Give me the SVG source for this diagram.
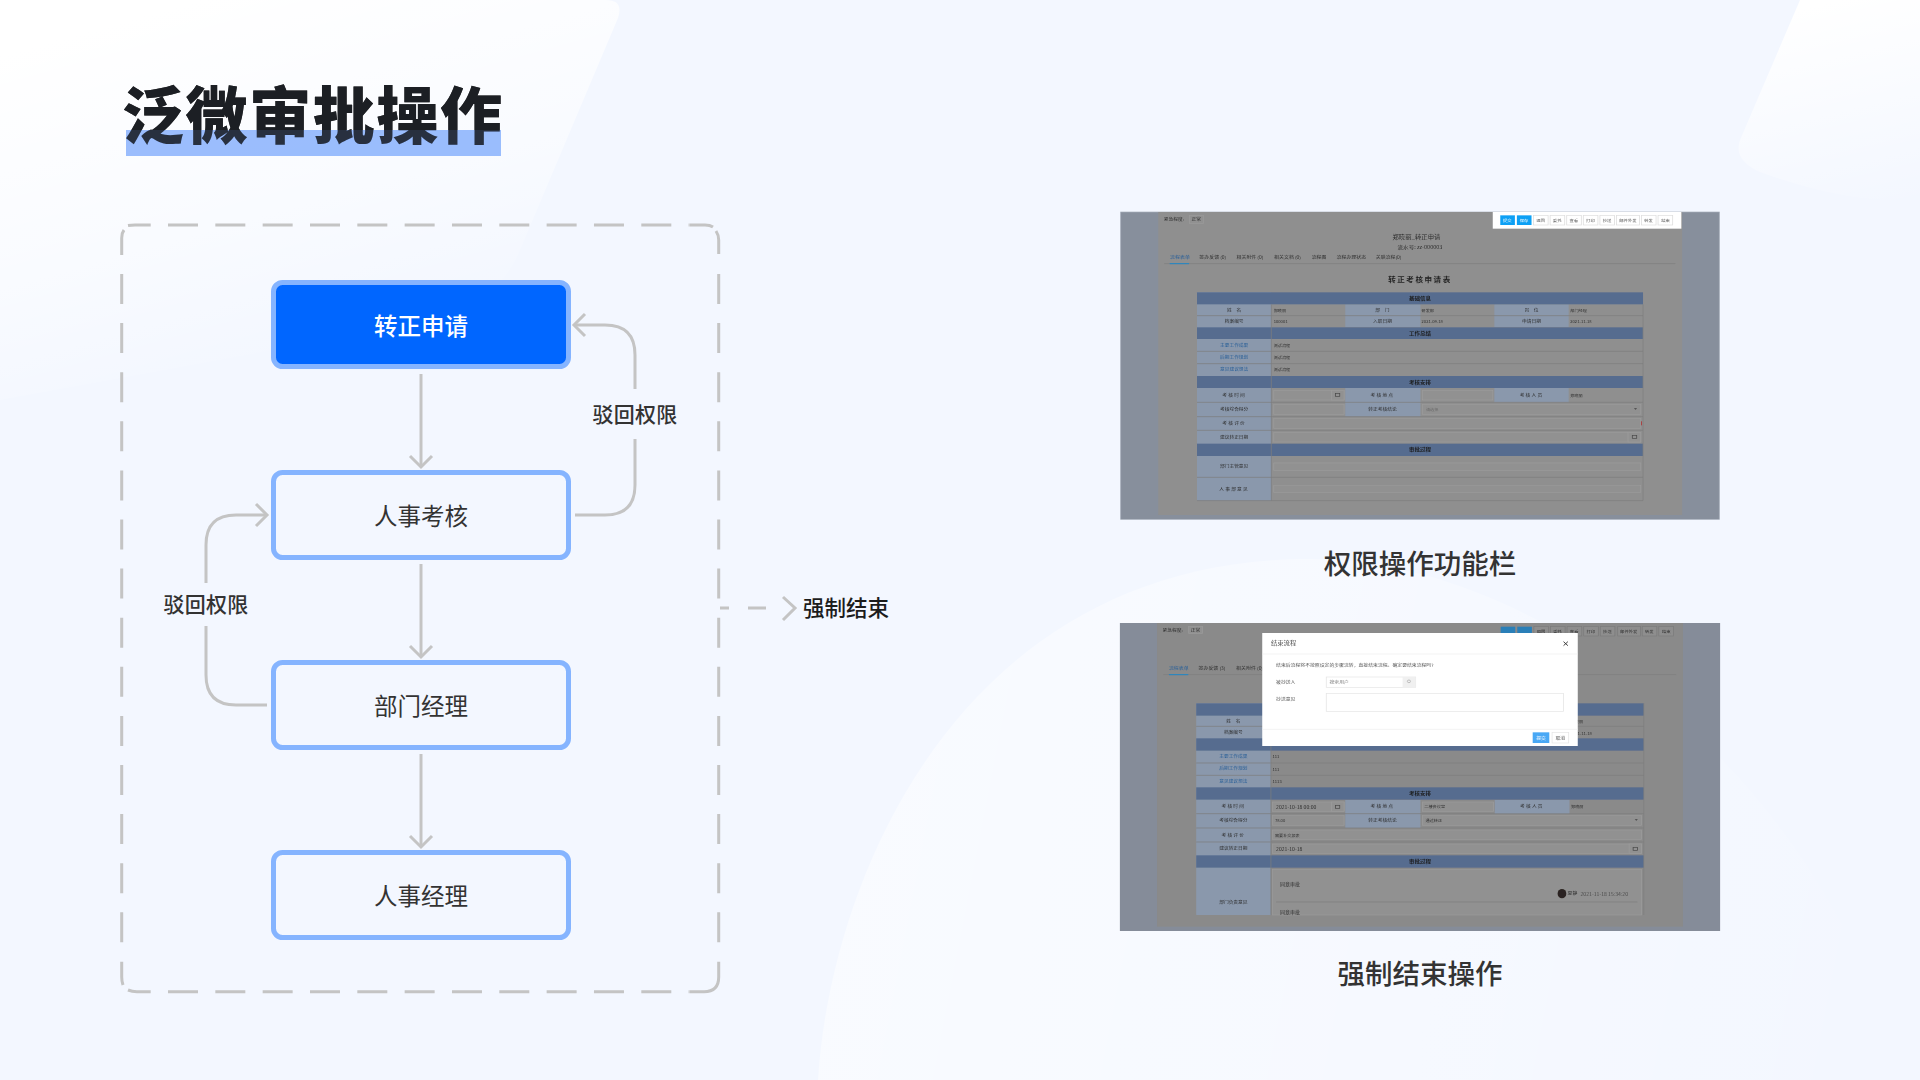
<svg xmlns="http://www.w3.org/2000/svg" width="1920" height="1080" viewBox="0 0 1920 1080">
<style>
text{font-family:"Noto Sans CJK SC","Noto Sans",sans-serif}
.node{fill:none;stroke:#85b4ff;stroke-width:5}
.nt{font-size:23.5px;fill:#333;text-anchor:middle}
.lb{font-size:21px;fill:#333;text-anchor:middle;letter-spacing:.2px;font-weight:500}
.cn{fill:none;stroke:#c4c4c4;stroke-width:3}
.cap{font-size:27.5px;fill:#333;font-weight:500;text-anchor:middle}
.s{font-size:12px;fill:#2e2e2e}
.v{font-size:10.5px;fill:#2e2e2e}
.t{font-size:12.5px;fill:#2e2e2e}
.h{font-size:14px;font-weight:700;fill:#1c1c1c;text-anchor:middle}
.bt{font-size:11px;fill:#555;text-anchor:middle}
.d{font-size:12.3px;fill:#555}
.m{text-anchor:middle}
.sp{letter-spacing:3px}
.lk{fill:#2b6098}
.lab{fill:#8a98ac}
.band{fill:#566c8f}
.inp{fill:#919191;stroke:#9b9b9b;stroke-width:2}
.ln{stroke:#7e7e7e;stroke-width:2;fill:none}
.ic{fill:none;stroke:#4a4a4a;stroke-width:2}
.tb{fill:#fff;stroke:#ddd;stroke-width:2}
.tbd{fill:#8e8e8e;stroke:#7c7c7c;stroke-width:2}
.fr{fill:none;stroke:#c4c4c4;stroke-width:3}
</style>
<defs>
<linearGradient id="tl" gradientUnits="userSpaceOnUse" x1="200" y1="0" x2="300" y2="360"><stop offset="0" stop-color="#fff"/><stop offset=".6" stop-color="#fff" stop-opacity=".5"/><stop offset="1" stop-color="#fff" stop-opacity="0"/></linearGradient>
<linearGradient id="tr" gradientUnits="userSpaceOnUse" x1="1840" y1="0" x2="1890" y2="210"><stop offset="0" stop-color="#fff"/><stop offset=".6" stop-color="#fff" stop-opacity=".4"/><stop offset="1" stop-color="#fff" stop-opacity="0"/></linearGradient>
<linearGradient id="br" gradientUnits="userSpaceOnUse" x1="820" y1="800" x2="1850" y2="1000"><stop offset="0" stop-color="#fff" stop-opacity=".5"/><stop offset=".55" stop-color="#fff" stop-opacity=".28"/><stop offset="1" stop-color="#fff" stop-opacity=".03"/></linearGradient>
<marker id="ch" markerUnits="userSpaceOnUse" markerWidth="30" markerHeight="30" viewBox="-15 -15 30 30" refX="0" refY="0" orient="auto"><path d="M-11,-11L0,0L-11,11" fill="none" stroke="#c4c4c4" stroke-width="3"/></marker>
<filter id="bl" x="-2%" y="-2%" width="104%" height="104%"><feGaussianBlur stdDeviation="2 1.6"/></filter>
</defs>
<rect id="background" width="1920" height="1080" fill="#f3f7ff"/>
<path d="M0,0H606Q624,0 618,18L520,250Q500,300 440,320L0,400Z" fill="url(#tl)"/>
<path d="M1800,0L1740,140Q1733,160 1760,172Q1850,205 1920,200V0Z" fill="url(#tr)"/>
<path d="M818,1080C830,880 960,559 1310,559C1500,559 1700,700 1810,870C1860,950 1900,1030 1920,1080Z" fill="url(#br)"/>

<g id="title">
<text x="122" y="139" font-size="62" font-weight="900" fill="#222" textLength="380" lengthAdjust="spacing">泛微审批操作</text>
<rect x="126" y="130" width="375" height="26" fill="#85aefc" opacity=".82"/>
<text x="122" y="139" font-size="62" font-weight="900" fill="#1b1f24" fill-opacity=".85" textLength="380" lengthAdjust="spacing">泛微审批操作</text>
</g>

<g id="frame">
<path class="fr" d="M168,225H689" stroke-dasharray="30 17.33"/>
<path class="fr" d="M168,991.700H689" stroke-dasharray="30 17.33"/>
<path class="fr" d="M121.700,274V961" stroke-dasharray="30 19.1"/>
<path class="fr" d="M718.700,274V961" stroke-dasharray="30 19.1"/>
<path class="fr" d="M121.700,255V238Q121.700,233 124,230M128,225.500Q131,225 135,225H150.700"/>
<path class="fr" d="M689.300,225H705Q710,225 713,227M716,231Q718.700,235 718.700,240V254"/>
<path class="fr" d="M718.700,961.700V977Q718.700,991.700 704,991.700H689.300"/>
<path class="fr" d="M121.700,961.700V977Q121.700,981 123,985M128,990Q132,991.700 137,991.700H150.700"/>
</g>

<g id="connectors">
<path class="cn" marker-end="url(#ch)" d="M421,374V467"/>
<path class="cn" marker-end="url(#ch)" d="M421,564V657"/>
<path class="cn" marker-end="url(#ch)" d="M421,754V847"/>
<path class="cn" d="M575,515H605Q635,515 635,485V439"/>
<path class="cn" marker-end="url(#ch)" d="M635,389V355Q635,325 605,325H574"/>
<path class="cn" d="M267,705H236Q206,705 206,675V626"/>
<path class="cn" marker-end="url(#ch)" d="M206,583V545Q206,515 236,515H267"/>
<path class="cn" d="M720,608H729M748,608H766"/>
<path class="cn" d="M783,597L795,608L783,620"/>
</g>

<g id="n1"><rect x="273.500" y="282.500" width="295" height="84" rx="9" fill="#06f" stroke="#85b4ff" stroke-width="5"/><text class="nt" x="421" y="335" style="fill:#fff;font-weight:500">转正申请</text></g>
<g id="n2"><rect class="node" x="273.500" y="472.500" width="295" height="85" rx="9"/><text class="nt" x="421" y="525">人事考核</text></g>
<g id="n3"><rect class="node" x="273.500" y="662.500" width="295" height="85" rx="9"/><text class="nt" x="421" y="715">部门经理</text></g>
<g id="n4"><rect class="node" x="273.500" y="852.500" width="295" height="85" rx="9"/><text class="nt" x="421" y="905">人事经理</text></g>

<text id="l1" class="lb" x="635" y="422">驳回权限</text>
<text id="l2" class="lb" x="206" y="612">驳回权限</text>
<text id="l3" x="803" y="616" font-size="21.5" font-weight="500" fill="#1c1c1c">强制结束</text>

<g id="shot1" transform="translate(1110,200) scale(.39541,.33333)">
<rect x="27" y="36" width="1514" height="922" fill="#878f9c" stroke="#a5adb9" stroke-width="2"/>
<rect x="122" y="36" width="1325" height="909" fill="#8f8f8f"/>
<g filter="url(#bl)">
<text class="s" x="136" y="63">紧急程度:</text><rect x="201" y="47" width="35" height="23" class="inp"/><text class="s m" x="218" y="63">正常</text>
<text class="m" x="775" y="116" style="font-size:16px;fill:#2a2a2a">郑晓丽_转正申请</text>
<text class="m" x="784" y="147" style="font-size:14px;fill:#2a2a2a">流水号: zz-000003</text>
<text class="t lk" x="152" y="177">流程表单</text><text class="t" x="226" y="177">签办反馈 (0)</text><text class="t" x="320" y="177">相关附件 (0)</text><text class="t" x="415" y="177">相关文档 (0)</text><text class="t" x="510" y="177">流程图</text><text class="t" x="573" y="177">流程办理状态</text><text class="t" x="672" y="177">关联流程(0)</text>
<path class="ln" d="M137,191H1430"/><path d="M151,191H200" stroke="#1d86c8" stroke-width="3"/>
<text class="m" x="784" y="245" style="font-size:19px;font-weight:700;fill:#222;letter-spacing:4px">转正考核申请表</text>
<rect class="lab" x="220" y="277" width="188" height="625"/>
<rect class="lab" x="595" y="313" width="190" height="68"/><rect class="lab" x="972" y="313" width="188" height="68"/>
<rect class="lab" x="595" y="564" width="190" height="86"/><rect class="lab" x="972" y="564" width="188" height="43"/>
<rect class="band" x="220" y="277" width="1128" height="36"/><rect class="band" x="220" y="382" width="1128" height="35"/><rect class="band" x="220" y="528" width="1128" height="36"/><rect class="band" x="220" y="731" width="1128" height="37"/>
<path class="ln" d="M220,347H1348M220,454H1348M220,491H1348M220,607H1348M220,650H1348M220,691H1348M220,832H1348M220,902H1348M1348,313V902M408,313V902"/>
<text class="h" x="784" y="300">基础信息</text><text class="h" x="784" y="404">工作总结</text><text class="h" x="784" y="551">考核安排</text><text class="h" x="784" y="754">审批过程</text>
<text class="s m" x="314" y="335">姓　名</text><text class="s m" x="689" y="335">部　门</text><text class="s m" x="1066" y="335">岗　位</text>
<text class="s m" x="314" y="369">档案编号</text><text class="s m" x="689" y="369">入职日期</text><text class="s m" x="1066" y="369">申请日期</text>
<text class="s m lk" x="314" y="441">主要工作成果</text><text class="s m lk" x="314" y="478">后期工作规划</text><text class="s m lk" x="314" y="514">意见建议想法</text>
<text class="s m sp" x="314" y="590">考核时间</text><text class="s m sp" x="689" y="590">考核地点</text><text class="s m sp" x="1066" y="590">考核人员</text>
<text class="s m" x="314" y="632">考核综合得分</text><text class="s m" x="689" y="632">转正考核结论</text><text class="s m sp" x="314" y="675">考核评价</text><text class="s m" x="314" y="716">建议转正日期</text>
<text class="s m" x="314" y="805">部门主管意见</text><text class="s m sp" x="314" y="873">人事部意见</text>
<text class="v" x="414" y="335">郑晓丽</text><text class="v" x="788" y="335">研发部</text><text class="v" x="1164" y="335">部门经理</text><text class="v" x="414" y="370">100001</text><text class="v" x="788" y="370">2021-09-18</text><text class="v" x="1164" y="370">2021-11-18</text>
<text class="v" x="414" y="441">测试流程</text><text class="v" x="414" y="478">测试流程</text><text class="v" x="414" y="514">测试流程</text><text class="v" x="1164" y="591">郑晓丽</text>
<rect class="inp" x="414" y="571" width="178" height="29"/><rect class="inp" x="560" y="571" width="32" height="29"/><rect class="inp" x="790" y="571" width="178" height="29"/>
<rect class="inp" x="414" y="614" width="178" height="29"/><rect class="inp" x="790" y="614" width="552" height="29"/><text class="v" x="799" y="632" style="fill:#6a6a6a">请选择</text><path d="M1325,625h8l-4,4z" fill="#444"/>
<rect class="inp" x="414" y="656" width="928" height="29"/><rect class="inp" x="414" y="697" width="928" height="29"/><rect class="inp" x="1310" y="697" width="32" height="29"/>
<rect class="ic" x="570" y="581" width="11" height="9"/><rect class="ic" x="1321" y="707" width="11" height="9"/><rect x="1343" y="664" width="2" height="12" fill="#b03030"/>
<rect class="inp" x="414" y="789" width="928" height="22"/><rect class="inp" x="414" y="856" width="928" height="22"/>
</g>
<rect fill="#fff" x="968" y="36" width="477" height="50"/>
<g filter="url(#bl)">
<rect x="987" y="46" width="37" height="29" fill="#0ba0f5"/><rect x="1029" y="46" width="37" height="29" fill="#0ba0f5"/>
<rect class="tb" x="1071" y="46" width="37" height="29"/><rect class="tb" x="1113" y="46" width="37" height="29"/><rect class="tb" x="1155" y="46" width="37" height="29"/><rect class="tb" x="1197" y="46" width="37" height="29"/><rect class="tb" x="1239" y="46" width="37" height="29"/><rect class="tb" x="1281" y="46" width="58" height="29"/><rect class="tb" x="1344" y="46" width="37" height="29"/><rect class="tb" x="1386" y="46" width="37" height="29"/>
<text class="bt" x="1005" y="65" style="fill:#fff">提交</text><text class="bt" x="1047" y="65" style="fill:#fff">保存</text><text class="bt" x="1089" y="65">退回</text><text class="bt" x="1131" y="65">委托</text><text class="bt" x="1173" y="65">查看</text><text class="bt" x="1215" y="65">打印</text><text class="bt" x="1257" y="65">抄送</text><text class="bt" x="1310" y="65">邮件外发</text><text class="bt" x="1362" y="65">转发</text><text class="bt" x="1405" y="65">结束</text>
</g>
</g>
<text id="c1" class="cap" x="1420" y="574">权限操作功能栏</text>

<g id="shot2" transform="translate(1110,610) scale(.39541,.33333)">
<rect x="25" y="39" width="1518" height="924" fill="#858c99"/>
<rect x="119" y="39" width="1330" height="911" fill="#8a8a8a"/>
<g filter="url(#bl)">
<text class="s" x="133" y="65">紧急程度:</text><rect x="199" y="50" width="35" height="21" class="inp"/><text class="s m" x="216" y="65">正常</text>
<rect x="988" y="50" width="37" height="28" fill="#2a7fb8"/><rect x="1030" y="50" width="37" height="28" fill="#2a7fb8"/>
<rect class="tbd" x="1072" y="50" width="37" height="28"/><rect class="tbd" x="1114" y="50" width="37" height="28"/><rect class="tbd" x="1156" y="50" width="37" height="28"/><rect class="tbd" x="1198" y="50" width="37" height="28"/><rect class="tbd" x="1240" y="50" width="37" height="28"/><rect class="tbd" x="1284" y="50" width="58" height="28"/><rect class="tbd" x="1346" y="50" width="37" height="28"/><rect class="tbd" x="1388" y="50" width="37" height="28"/>
<text class="bt" x="1090" y="68" style="fill:#2e2e2e">退回</text><text class="bt" x="1132" y="68" style="fill:#2e2e2e">委托</text><text class="bt" x="1174" y="68" style="fill:#2e2e2e">查看</text><text class="bt" x="1216" y="68" style="fill:#2e2e2e">打印</text><text class="bt" x="1258" y="68" style="fill:#2e2e2e">抄送</text><text class="bt" x="1312" y="68" style="fill:#2e2e2e">邮件外发</text><text class="bt" x="1364" y="68" style="fill:#2e2e2e">转发</text><text class="bt" x="1407" y="68" style="fill:#2e2e2e">结束</text>
<text class="t lk" x="149" y="179">流程表单</text><text class="t" x="224" y="179">签办反馈 (3)</text><text class="t" x="319" y="179">相关附件 (0)</text>
<path class="ln" d="M135,194H1432"/><path d="M149,194H198" stroke="#1d86c8" stroke-width="3"/>
<rect class="lab" x="218" y="280" width="189" height="635"/>
<rect class="lab" x="595" y="570" width="190" height="84"/><rect class="lab" x="973" y="570" width="189" height="42"/>
<rect class="band" x="218" y="280" width="1132" height="37"/><rect class="band" x="218" y="385" width="1132" height="37"/><rect class="band" x="218" y="532" width="1132" height="37"/><rect class="band" x="218" y="736" width="1132" height="37"/>
<path class="ln" d="M218,349H1350M218,459H1350M218,496H1350M218,611H1350M218,654H1350M218,696H1350M1350,280V915M407,280V915"/>
<text class="s m" x="312" y="338">姓　名</text><text class="s m" x="312" y="372">档案编号</text><text class="v" x="1165" y="338">郑晓丽</text><text class="v" x="1165" y="374">2021-11-18</text>
<text class="s m lk" x="312" y="444">主要工作成果</text><text class="s m lk" x="312" y="481">后期工作规划</text><text class="s m lk" x="312" y="518">意见建议想法</text>
<text class="v" x="411" y="445">111</text><text class="v" x="411" y="482">111</text><text class="v" x="411" y="519">1113</text>
<text class="h" x="784" y="556">考核安排</text><text class="h" x="784" y="760">审批过程</text>
<text class="s m sp" x="312" y="595">考核时间</text><text class="s m sp" x="689" y="595">考核地点</text><text class="s m sp" x="1067" y="595">考核人员</text><text class="s m" x="312" y="637">考核综合得分</text><text class="s m" x="689" y="637">转正考核结论</text><text class="s m sp" x="312" y="680">考核评价</text><text class="s m" x="312" y="721">建议转正日期</text><text class="s m" x="312" y="881">部门负责意见</text>
<rect class="inp" x="411" y="576" width="181" height="29"/><rect class="inp" x="560" y="576" width="32" height="29"/><rect class="inp" x="790" y="576" width="180" height="29"/><rect class="inp" x="411" y="617" width="181" height="29"/><rect class="inp" x="790" y="617" width="554" height="29"/><rect class="inp" x="411" y="660" width="933" height="29"/><rect class="inp" x="411" y="702" width="933" height="29"/><rect class="inp" x="1313" y="702" width="31" height="29"/>
<rect class="ic" x="570" y="586" width="11" height="9"/><rect class="ic" x="1323" y="712" width="11" height="9"/><path d="M1327,628h8l-4,4z" fill="#444"/>
<rect class="inp" x="411" y="779" width="933" height="136"/><path class="ln" d="M420,876H1334"/>
<text x="420" y="596" style="font-size:13px;fill:#2e2e2e">2021-10-18 00:00</text><text class="v" x="795" y="595">二楼会议室</text><text class="v" x="1166" y="595">郑晓丽</text><text class="v" x="417" y="637">78.00</text><text class="v" x="798" y="637">通过转正</text><text class="v" x="417" y="680">需要补交报表</text><text x="420" y="722" style="font-size:13px;fill:#2e2e2e">2021-10-18</text>
<text x="430" y="827" style="font-size:12.7px;fill:#2e2e2e">同意审批</text><text x="430" y="913" style="font-size:12.7px;fill:#2e2e2e">同意审批</text><ellipse cx="1143" cy="851" rx="11" ry="14" fill="#2c2420"/><text class="t" x="1157" y="856">夏静</text><text x="1190" y="857" style="font-size:13px;fill:#4a4a4a">2021-11-18 15:34:20</text>
</g>
<rect x="385" y="69" width="798" height="339" fill="#fff"/>
<g filter="url(#bl)">
<path d="M386,132H1182M386,358H1182" stroke="#eee" stroke-width="2"/>
<text x="407" y="106" style="font-size:16px;fill:#444">结束流程</text><path d="M1147,95L1158,107M1158,95L1147,107" stroke="#333" stroke-width="2.500"/>
<text class="d" x="420" y="172">结束后流程将不按照设定的步骤流转，直接结束流程。确定要结束流程吗?</text>
<text class="d" x="420" y="222">被抄送人</text><text class="d" x="420" y="272">抄送意见</text>
<rect x="547" y="201" width="226" height="32" fill="#fff" stroke="#e5e5e5" stroke-width="2"/><rect x="740" y="201" width="33" height="32" fill="#f0f0f0"/><text class="d" x="555" y="222" style="fill:#888">搜索用户</text><circle cx="756" cy="214" r="4" fill="none" stroke="#999" stroke-width="1.500"/>
<rect x="547" y="250" width="600" height="55" fill="#fff" stroke="#e5e5e5" stroke-width="2"/>
<rect x="1069" y="367" width="42" height="32" fill="#4aa8f5"/><text class="d m" x="1090" y="389" style="fill:#fff">提交</text><rect x="1118" y="367" width="42" height="32" fill="#fff" stroke="#e5e5e5" stroke-width="2"/><text class="d m" x="1139" y="389">取消</text>
</g>
</g>
<text id="c2" class="cap" x="1420" y="984">强制结束操作</text>
</svg>
